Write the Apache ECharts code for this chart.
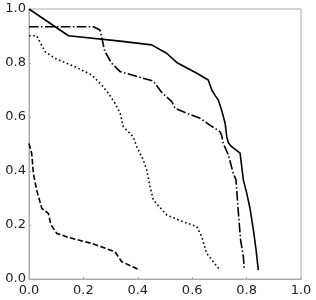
<!DOCTYPE html>
<html>
<head>
<meta charset="utf-8">
<script src="https://cdn.jsdelivr.net/npm/echarts@6/dist/echarts.min.js"></script>
<style>html,body{margin:0;padding:0;background:#fff}#c{width:316px;height:300px}</style>
</head>
<body>
<div id="c"></div>
<script>
// Series data as x / y lists
const solidX = [0.0, 0.145, 0.335, 0.451, 0.506, 0.543, 0.617, 0.659, 0.672, 0.684, 0.696, 0.708, 0.721, 0.727, 0.733, 0.745, 0.776, 0.788, 0.800, 0.8125, 0.825, 0.835, 0.843];
const solidY = [1.0, 0.901, 0.881, 0.867, 0.836, 0.802, 0.762, 0.737, 0.700, 0.680, 0.663, 0.626, 0.577, 0.527, 0.505, 0.490, 0.466, 0.367, 0.320, 0.262, 0.181, 0.107, 0.033];

const dashDotX = [0.0, 0.237, 0.261, 0.279, 0.304, 0.335, 0.457, 0.488, 0.525, 0.537, 0.580, 0.629, 0.665, 0.702, 0.708, 0.714, 0.733, 0.751, 0.761, 0.770, 0.778, 0.788, 0.792];
const dashDotY = [0.934, 0.934, 0.922, 0.842, 0.799, 0.768, 0.733, 0.691, 0.657, 0.632, 0.614, 0.595, 0.570, 0.546, 0.533, 0.503, 0.459, 0.391, 0.367, 0.243, 0.144, 0.083, 0.033];

const dottedX = [0.0, 0.028, 0.059, 0.096, 0.169, 0.230, 0.267, 0.292, 0.316, 0.335, 0.347, 0.383, 0.396, 0.420, 0.433, 0.445, 0.457, 0.506, 0.567, 0.617, 0.635, 0.653, 0.702];
const dottedY = [0.901, 0.901, 0.842, 0.817, 0.786, 0.756, 0.719, 0.688, 0.651, 0.614, 0.564, 0.527, 0.490, 0.441, 0.404, 0.342, 0.293, 0.237, 0.212, 0.194, 0.157, 0.095, 0.033];

const dashedX = [0.0, 0.010, 0.016, 0.028, 0.047, 0.071, 0.081, 0.102, 0.145, 0.230, 0.316, 0.341, 0.408];
const dashedY = [0.502, 0.465, 0.391, 0.330, 0.262, 0.243, 0.200, 0.169, 0.154, 0.132, 0.101, 0.064, 0.033];

const tickValues = [0.0, 0.2, 0.4, 0.6, 0.8, 1.0];

function pairs(xs, ys) { return xs.map((x, i) => [x, ys[i]]); }

const axisCommon = {
  type: 'value', min: 0, max: 1, interval: 0.2,
  axisLine: { show: true, lineStyle: { color: '#aaaaaa', width: 1 } },
  axisTick: { show: true, inside: true, length: 2, lineStyle: { color: '#aaaaaa' } },
  splitLine: { show: false },
  axisLabel: {
    color: '#222', fontFamily: 'DejaVu Sans', fontSize: 13, margin: 3,
    formatter: v => tickValues.find(t => Math.abs(t - v) < 1e-6) !== undefined ? v.toFixed(1) : ''
  }
};

function line(xs, ys, type) {
  return {
    type: 'line', data: pairs(xs, ys), showSymbol: false, symbol: 'none',
    lineStyle: { color: '#000', width: 1.6, type: type, cap: 'butt' },
    animation: false
  };
}

const chart = echarts.init(document.getElementById('c'), null, { renderer: 'canvas' });
chart.setOption({
  animation: false,
  grid: { left: 29, right: 15, top: 9, bottom: 21, show: true, borderColor: '#aaaaaa', borderWidth: 1, containLabel: false },
  xAxis: Object.assign({}, axisCommon, { axisLabel: Object.assign({}, axisCommon.axisLabel, { margin: 5 }) }),
  yAxis: Object.assign({}, axisCommon),
  series: [
    line(solidX, solidY, 'solid'),
    line(dashDotX, dashDotY, [9.6, 2.4, 1.5, 2.4]),
    line(dottedX, dottedY, [1.6, 2.6]),
    line(dashedX, dashedY, [5.5, 2.4])
  ]
});
</script>
</body>
</html>
